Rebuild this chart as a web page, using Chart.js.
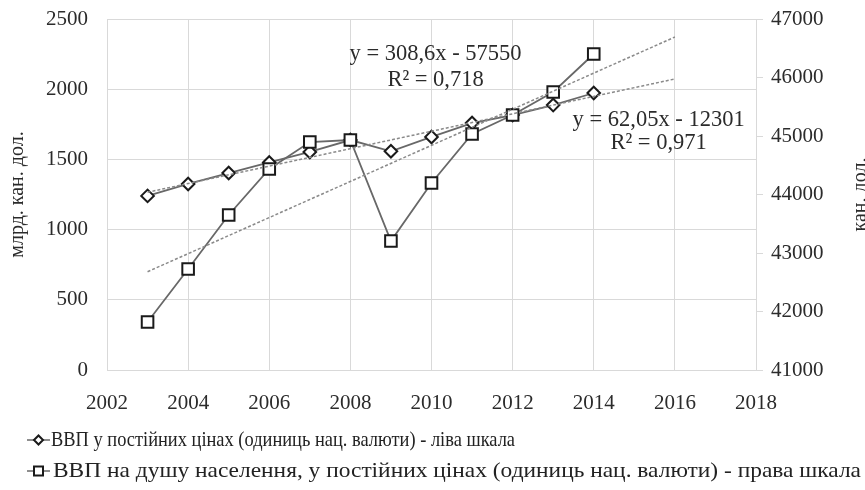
<!DOCTYPE html>
<html>
<head>
<meta charset="utf-8">
<script src="https://cdn.jsdelivr.net/npm/chart.js@4"></script>
<style>
  html, body { margin: 0; padding: 0; background: #fff; }
  #wrap { width: 865px; height: 490px; }
</style>
</head>
<body>
<div id="wrap"><canvas id="chart" width="865" height="490"></canvas></div>
<script>
// ------- Data -------
const years = [2003, 2004, 2005, 2006, 2007, 2008, 2009, 2010, 2011, 2012, 2013, 2014];
const gdpConst = [1240, 1325, 1403, 1478, 1553, 1638, 1558, 1660, 1759, 1816, 1887, 1973];
const gdpPerCapita = [41820, 42726, 43650, 44436, 44897, 44932, 43205, 44197, 45034, 45359, 45752, 46402];

const trendYears = [2003, 2016];
const trendLeft = [1266, 2073];
const trendRight = [42680, 46692];

const seriesLabels = [
  'ВВП у постійних цінах (одиниць нац. валюти) - ліва шкала',
  'ВВП на душу населення, у постійних цінах (одиниць нац. валюти) - права шкала'
];
const trendTexts = [
  ['y = 308,6x - 57550', 'R² = 0,718'],
  ['y = 62,05x - 12301', 'R² = 0,971']
];
const leftTitle = 'млрд. кан. дол.';
const rightTitle = 'кан. дол.';

// ------- Styles -------
const FONT = '"Liberation Serif", "Times New Roman", serif';
const TEXT = '#2b2b2b';
const GRID = '#d9d9d9';
const LINE = '#686868';
const MARK = '#1a1a1a';

const toPoints = (xs, ys) => xs.map((x, i) => ({ x, y: ys[i] }));
const plain = v => String(v);

// text labels for trendlines, anchored in data coords
const trendLabelPlugin = {
  id: 'trendLabels',
  afterDatasetsDraw(chart) {
    const { ctx, scales } = chart;
    const anchors = [
      { x: 2010.1, y: [2250, 2066] },
      { x: 2015.6, y: [1780, 1617] }
    ];
    ctx.save();
    ctx.font = '22.5px ' + FONT;
    ctx.fillStyle = TEXT;
    ctx.textAlign = 'center';
    ctx.textBaseline = 'middle';
    anchors.forEach((a, i) => {
      const px = scales.x.getPixelForValue(a.x);
      trendTexts[i].forEach((t, j) => {
        ctx.fillText(t, px, scales.y.getPixelForValue(a.y[j]));
      });
    });
    ctx.restore();
  }
};

// right axis title (reads bottom-to-top) + legend rows
const extrasPlugin = {
  id: 'extras',
  afterDraw(chart) {
    const { ctx, chartArea } = chart;
    ctx.save();
    ctx.font = '20px ' + FONT;
    ctx.fillStyle = TEXT;
    ctx.textAlign = 'center';
    ctx.textBaseline = 'middle';
    ctx.translate(861, (chartArea.top + chartArea.bottom) / 2);
    ctx.rotate(-Math.PI / 2);
    ctx.fillText(rightTitle, 0, 0);
    ctx.restore();

    const rows = [
      { y: 440, style: 'diamond', textX: 51, width: 464 },
      { y: 471, style: 'square', textX: 53, width: 808 }
    ];
    rows.forEach((r, i) => {
      ctx.save();
      ctx.strokeStyle = LINE;
      ctx.lineWidth = 1.5;
      ctx.beginPath();
      ctx.moveTo(27, r.y);
      ctx.lineTo(50, r.y);
      ctx.stroke();
      ctx.fillStyle = '#fff';
      ctx.strokeStyle = MARK;
      ctx.lineWidth = 2;
      ctx.beginPath();
      if (r.style === 'diamond') {
        ctx.moveTo(38.5 - 4.5, r.y); ctx.lineTo(38.5, r.y - 4.5);
        ctx.lineTo(38.5 + 4.5, r.y); ctx.lineTo(38.5, r.y + 4.5);
        ctx.closePath();
      } else {
        ctx.rect(34, r.y - 4.5, 9, 9);
      }
      ctx.fill();
      ctx.stroke();
      ctx.font = '22px ' + FONT;
      ctx.fillStyle = '#222';
      ctx.textBaseline = 'middle';
      const w = ctx.measureText(seriesLabels[i]).width;
      ctx.translate(r.textX, r.y);
      ctx.scale(r.width / w, 1);
      ctx.fillText(seriesLabels[i], 0, 0);
      ctx.restore();
    });
  }
};

new Chart(document.getElementById('chart'), {
  type: 'line',
  data: {
    datasets: [
      {
        label: 'trend-right',
        data: toPoints(trendYears, trendRight),
        yAxisID: 'y1',
        borderColor: '#8a8a8a',
        borderWidth: 1.5,
        borderDash: [3, 2],
        pointRadius: 0,
        order: 1
      },
      {
        label: 'trend-left',
        data: toPoints(trendYears, trendLeft),
        yAxisID: 'y',
        borderColor: '#8a8a8a',
        borderWidth: 1.5,
        borderDash: [3, 2],
        pointRadius: 0,
        order: 1
      },
      {
        label: seriesLabels[1],
        data: toPoints(years, gdpPerCapita),
        yAxisID: 'y1',
        borderColor: LINE,
        borderWidth: 1.8,
        pointStyle: 'rect',
        pointRadius: 8.2,
        pointBackgroundColor: '#fff',
        pointBorderColor: MARK,
        pointBorderWidth: 2,
        order: 2
      },
      {
        label: seriesLabels[0],
        data: toPoints(years, gdpConst),
        yAxisID: 'y',
        borderColor: LINE,
        borderWidth: 1.8,
        pointStyle: 'rectRot',
        pointRadius: 6.3,
        pointBackgroundColor: '#fff',
        pointBorderColor: MARK,
        pointBorderWidth: 2,
        order: 3
      }
    ]
  },
  options: {
    responsive: false,
    animation: false,
    devicePixelRatio: 1,
    layout: { padding: { top: 19, bottom: 70, left: 0, right: 0 } },
    plugins: {
      legend: { display: false },
      tooltip: { enabled: false }
    },
    scales: {
      x: {
        type: 'linear',
        min: 2002,
        max: 2018,
        ticks: { stepSize: 2, color: TEXT, font: { family: FONT, size: 21 }, padding: 21, callback: plain },
        grid: { color: GRID, drawTicks: false },
        border: { color: GRID },
        afterFit: s => { s.height = 50; }
      },
      y: {
        position: 'left',
        min: 0,
        max: 2500,
        ticks: { stepSize: 500, color: TEXT, font: { family: FONT, size: 21, lineHeight: 1 }, padding: 0, callback: plain },
        grid: { color: GRID, tickLength: 19, tickColor: 'rgba(0,0,0,0)' },
        border: { color: GRID },
        title: {
          display: true,
          text: leftTitle,
          color: TEXT,
          font: { family: FONT, size: 20 },
          padding: { top: 6, bottom: 0 }
        },
        afterFit: s => { s.width = 107; }
      },
      y1: {
        position: 'right',
        min: 41000,
        max: 47000,
        ticks: { stepSize: 1000, color: TEXT, font: { family: FONT, size: 21, lineHeight: 1 }, padding: 8, callback: plain },
        grid: { drawOnChartArea: false, color: GRID, tickLength: 7 },
        border: { color: GRID },
        afterFit: s => { s.width = 109; }
      }
    }
  },
  plugins: [trendLabelPlugin, extrasPlugin]
});
</script>
</body>
</html>
